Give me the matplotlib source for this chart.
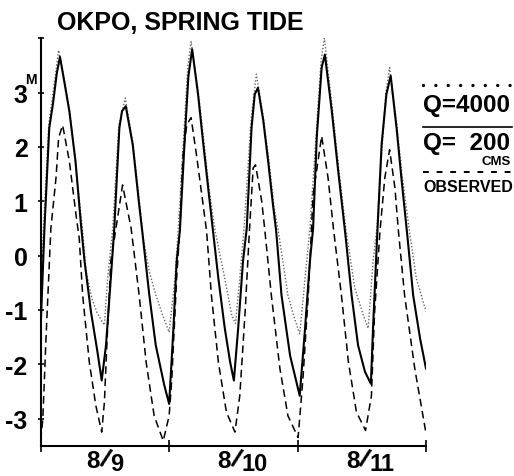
import matplotlib
matplotlib.use("Agg")
import matplotlib.pyplot as plt
from matplotlib.lines import Line2D

plt.rcParams['font.family'] = ['Liberation Sans', 'DejaVu Sans']
plt.rcParams['font.weight'] = 'bold'

# hours from the start of 8/9, water level in metres
q200_hours = [0.0, 0.7, 1.6, 2.3, 3.0, 3.6, 4.5, 5.35, 6.5, 7.5, 8.2, 9.4, 10.6, 11.4,
              12.2, 13.1, 13.75, 14.7, 15.2, 15.9, 17.2, 18.4, 19.05, 20.3, 21.5, 23.1, 24.0,
              24.8, 25.4, 26.0, 27.0, 27.6, 28.3, 29.4, 30.4, 31.3, 32.2, 33.2, 34.4, 35.4, 36.1,
              36.9, 37.8, 38.5, 39.4, 40.0, 40.6, 41.6, 42.5, 43.4, 44.0, 45.0, 46.6, 48.4,
              49.4, 50.3, 50.9, 51.6, 52.5, 53.1, 54.4, 55.6, 56.9, 58.1, 59.3, 60.6, 61.7,
              62.1, 62.8, 63.7, 64.6, 65.4, 66.5, 67.4, 68.5, 69.6, 70.9, 72.0]
q200_level = [-1.3, 0.5, 2.35, 2.8, 3.35, 3.66, 3.15, 2.66, 1.74, 0.6, -0.11, -1.04, -1.77, -2.3,
              -1.65, -0.42, 0.5, 2.35, 2.66, 2.75, 2.04, 0.94, 0.38, -0.73, -1.65, -2.39, -2.73,
              -1.34, -0.11, 0.45, 2.3, 3.3, 3.8, 2.97, 2.04, 1.24, 0.45, -0.42, -1.34, -1.96, -2.3,
              -1.34, -0.11, 0.5, 2.35, 2.97, 3.09, 2.48, 1.74, 0.94, 0.45, -0.73, -1.84, -2.58,
              -1.34, -0.11, 0.5, 2.2, 3.46, 3.7, 2.66, 1.55, 0.42, -0.73, -1.65, -2.14, -2.36,
              -1.34, 0.2, 2.04, 2.97, 3.31, 2.35, 1.43, 0.38, -0.73, -1.53, -2.08]

q4000_hours = [0.0, 0.5, 1.5, 3.35, 4.5, 5.5, 6.6, 7.8, 8.5, 9.6, 10.6, 11.9,
               12.5, 13.45, 14.6, 15.8, 17.2, 18.5, 19.2, 20.3, 21.6, 22.8, 24.0,
               25.1, 25.7, 27.5, 28.1, 29.4, 30.5, 31.5, 32.6, 34.4, 35.7, 36.4,
               37.2, 38.0, 39.3, 40.3, 41.6, 42.7, 43.6, 44.4, 46.2, 47.4, 48.4,
               49.4, 50.3, 52.4, 53.0, 54.4, 55.7, 57.0, 58.7, 60.3, 61.2,
               62.1, 62.8, 64.5, 65.2, 66.5, 67.5, 68.9, 70.2, 72.0]
q4000_level = [-0.6, 0.5, 2.4, 3.78, 3.2, 2.6, 1.6, 0.5, -0.3, -0.8, -1.07, -1.28,
               -0.42, 0.5, 2.4, 2.9, 2.1, 0.95, 0.3, -0.3, -0.75, -1.1, -1.41,
               -0.42, 0.5, 3.5, 3.94, 3.05, 2.1, 1.2, 0.45, -0.42, -1.1, -1.25,
               -0.42, 0.5, 2.5, 3.34, 2.55, 1.7, 0.9, 0.45, -0.73, -1.15, -1.44,
               -0.42, 0.5, 3.6, 4.0, 2.8, 1.6, 0.5, -0.6, -1.1, -1.34,
               -0.11, 0.5, 3.0, 3.46, 2.45, 1.5, 0.45, -0.42, -1.03]

obs_hours = [0.0, 0.4, 1.0, 1.9, 2.86, 3.35, 4.1, 5.35, 6.6, 7.2, 7.84, 9.08, 10.3, 11.4,
             11.9, 12.5, 13.1, 14.06, 15.3, 16.9, 18.4, 19.7, 21.2, 22.9,
             24.0, 24.5, 25.4, 26.0, 26.6, 27.3, 28.1, 29.1, 30.1, 31.0, 31.9, 33.2, 34.7, 36.3,
             37.2, 38.2, 39.0, 39.7, 40.15, 41.3, 41.9, 43.1, 44.7, 46.2, 48.1,
             49.0, 50.0, 50.6, 50.9, 52.5, 53.7, 54.7, 56.2, 57.5, 59.0, 60.7,
             61.8, 62.4, 63.4, 64.3, 65.2, 66.2, 66.8, 68.0, 69.9, 72.0]
obs_level = [-3.4, -3.0, -1.5, 0.5, 1.43, 2.17, 2.4, 1.74, 0.75, 0.32, -0.73, -1.96, -2.76, -3.25,
             -2.7, -1.34, -0.11, 0.5, 1.3, 0.5, -0.73, -1.96, -2.95, -3.41,
             -2.95, -2.27, -0.42, 0.5, 1.86, 2.41, 2.54, 1.86, 1.12, 0.45, -0.73, -1.96, -2.88, -3.25,
             -2.58, -1.04, 0.45, 1.61, 1.67, 1.0, 0.45, -0.73, -2.08, -2.95, -3.35,
             -2.27, -0.73, 0.5, 1.12, 2.2, 1.43, 0.5, -0.73, -1.96, -2.88, -3.22,
             -2.58, -1.04, 0.45, 1.43, 1.95, 1.24, 0.5, -0.73, -2.08, -3.27]

day_ticks = [0, 24, 48, 72]
day_label_pos = [12, 36.5, 60.5]
day_labels = ["8/9", "8/10", "8/11"]
y_ticks = [-3, -2, -1, 0, 1, 2, 3, 4]
y_labels = ["-3", "-2", "-1", "0", "1", "2", "3", ""]

W, H = 514, 477
fig = plt.figure(figsize=(W / 100, H / 100), dpi=100)
ax = fig.add_axes([40.7 / W, 1 - 446.7 / H, (426 - 40.7) / W, (446.7 - 39.3) / H])

ax.plot(q4000_hours, q4000_level, color="#666666", lw=1.0, linestyle=(0, (1, 1.4)))
ax.plot(q200_hours, q200_level, color="black", lw=1.5)
ax.plot(obs_hours, obs_level, color="black", lw=1.1, dashes=(5, 3))

ax.set_xlim(0, 72)
ax.set_ylim(-3.5, 4.0)
ax.set_xticks(day_ticks)
ax.set_yticks(y_ticks)
ax.set_yticklabels(y_labels)
for s in ["top", "right"]:
    ax.spines[s].set_visible(False)
for s in ["left", "bottom"]:
    ax.spines[s].set_linewidth(1.5)
ax.tick_params(axis="y", direction="inout", length=5, width=1.2, pad=7, labelsize=18)
ax.tick_params(axis="x", direction="inout", length=8, width=1.2, labelbottom=False)

# day labels written as slanted fractions
for pos, lab in zip(day_label_pos, day_labels):
    num, den = lab.split("/")
    ax.annotate(num, xy=(pos, 0), xycoords=("data", "axes fraction"),
                xytext=(-5, -21), textcoords="offset pixels",
                ha="right", va="baseline", fontsize=17.5)
    ax.annotate("/", xy=(pos, 0), xycoords=("data", "axes fraction"),
                xytext=(0, -13), textcoords="offset pixels",
                ha="center", va="center", fontsize=19, rotation=-22,
                rotation_mode="anchor")
    ax.annotate(den, xy=(pos, 0), xycoords=("data", "axes fraction"),
                xytext=(5, -24.5), textcoords="offset pixels",
                ha="left", va="baseline", fontsize=17)

fig.text(57 / W, 1 - 30 / H, "OKPO, SPRING TIDE", fontsize=18, ha="left", va="baseline")
fig.text(25 / W, 1 - 84 / H, "M", fontsize=10, ha="left", va="baseline")

# legend at the right
x0, x1 = 423 / W, 512 / W
fig.add_artist(Line2D([x0, x1], [1 - 86 / H] * 2, transform=fig.transFigure,
                      color="black", lw=2.4, linestyle=(0, (0.01, 3.7)),
                      dash_capstyle="round"))
fig.text(x0, 1 - 112 / H, "Q=4000", fontsize=17.5, ha="left", va="baseline")
fig.add_artist(Line2D([x0, x1], [1 - 128 / H] * 2, transform=fig.transFigure,
                      color="black", lw=1.2))
fig.text(x0, 1 - 150 / H, "Q=  200", fontsize=17.5, ha="left", va="baseline")
fig.text(511 / W, 1 - 165 / H, "CMS", fontsize=9.5, ha="right", va="baseline")
fig.add_artist(Line2D([x0, x1], [1 - 173 / H] * 2, transform=fig.transFigure,
                      color="black", lw=1.4, dashes=(3, 4)))
fig.text(x0, 1 - 192 / H, "OBSERVED", fontsize=11.5, ha="left", va="baseline")

fig.savefig("out.png", dpi=100)
